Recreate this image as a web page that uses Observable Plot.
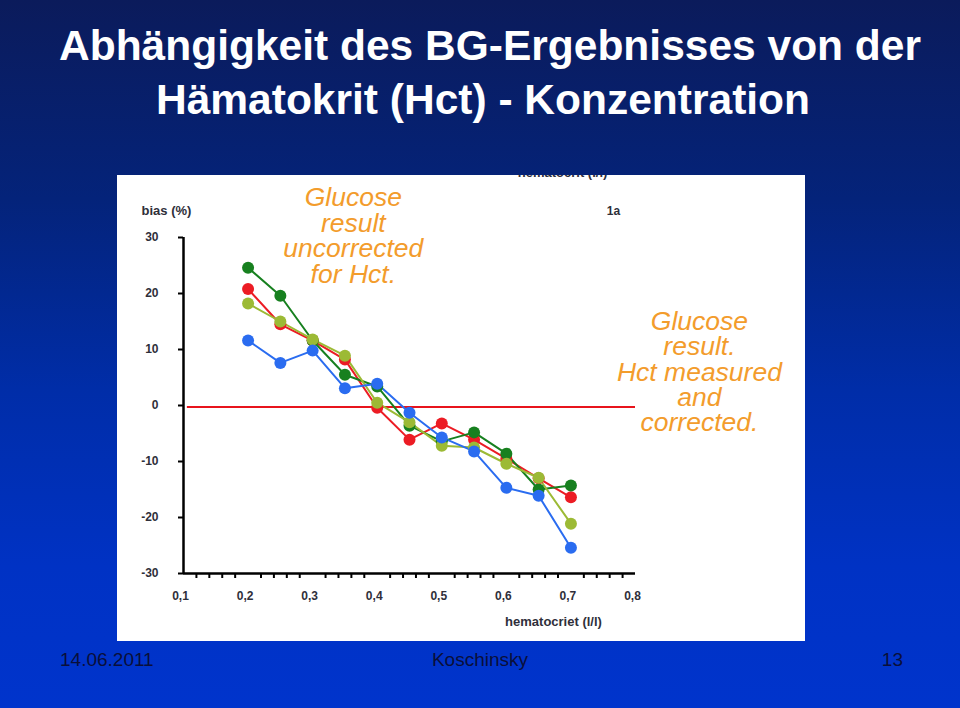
<!DOCTYPE html>
<html>
<head>
<meta charset="utf-8">
<script src="https://cdn.jsdelivr.net/npm/d3@7"></script>
<script src="https://cdn.jsdelivr.net/npm/@observablehq/plot@0.6"></script>
<style>
  html, body { margin: 0; padding: 0; }
  #slide {
    position: relative; width: 960px; height: 708px; overflow: hidden;
    background: linear-gradient(to bottom, #0b1b5b 0%, #04237a 28%, #002da8 55%, #0032c4 80%, #0034cc 100%);
    font-family: "Liberation Sans", Arial, sans-serif;
  }
  .title { position: absolute; left: 0; width: 960px; text-align: center; color: white;
    font-weight: bold; font-size: 42.5px; line-height: 43px; white-space: nowrap; }
  #chart { position: absolute; left: 117px; top: 175px; width: 688px; height: 466px; background: white; }
  .foot { position: absolute; top: 649px; font-size: 19px; color: #0a0f3a; }
</style>
</head>
<body>
<div id="slide">
  <div class="title" style="top:24px; left:10px;">Abhängigkeit des BG-Ergebnisses von der</div>
  <div class="title" style="top:78px; left:3px;">Hämatokrit (Hct) - Konzentration</div>
  <div id="chart"></div>
  <div class="foot" style="left:60px;">14.06.2011</div>
  <div class="foot" style="left:0; width:960px; text-align:center;">Koschinsky</div>
  <div class="foot" style="right:57px;">13</div>
</div>
<script>
// hematocrit (l/l) values
const hct = [0.2, 0.25, 0.3, 0.35, 0.4, 0.45, 0.5, 0.55, 0.6, 0.65, 0.7];
// bias (%) per series
const redSeries        = [20.8, 14.5, 11.6, 8.2, -0.4, -6.1, -3.2, -6.1, -9.5, -13.0, -16.4];
const darkGreenSeries  = [24.6, 19.6, 11.6, 5.5, 3.4, -3.6, -6.4, -4.8, -8.6, -15.0, -14.3];
const yellowGreenSeries= [18.2, 15.0, 11.8, 8.9, 0.5, -3.0, -7.2, -7.5, -10.4, -12.9, -21.1];
const blueSeries       = [11.6, 7.6, 9.8, 3.1, 3.9, -1.3, -5.7, -8.2, -14.7, -16.1, -25.4];
const seriesNames = ["red", "darkgreen", "yellowgreen", "blue"];
const seriesColors = ["#ec1c24", "#17801f", "#9cba35", "#2a6cf0"];
const yTicks = [-30, -20, -10, 0, 10, 20, 30];
const xLabelTicks = [0.1, 0.2, 0.3, 0.4, 0.5, 0.6, 0.7, 0.8];
const xMinorTicks = [0.12,0.14,0.16,0.18,0.22,0.24,0.26,0.28,0.32,0.34,0.36,0.38,0.42,0.44,0.46,0.48,
                     0.52,0.54,0.56,0.58,0.62,0.64,0.66,0.68,0.72,0.74,0.76,0.78];
const note1 = "Glucose\nresult\nuncorrected\nfor Hct.";
const note2 = "Glucose\nresult.\nHct measured\nand\ncorrected.";

const allSeries = [redSeries, darkGreenSeries, yellowGreenSeries, blueSeries];
const rows = allSeries.flatMap((vals, i) => hct.map((h, j) => ({series: seriesNames[i], hct: h, bias: vals[j]})));

const txt = "#2f2f3a";
const chart = Plot.plot({
  width: 688, height: 466,
  marginLeft: 66, marginRight: 170, marginTop: 62, marginBottom: 68,
  x: {domain: [0.1, 0.8]},
  y: {domain: [-30, 30]},
  color: {domain: seriesNames, range: seriesColors},
  style: {background: "white", fontFamily: "Liberation Sans, Arial, sans-serif", overflow: "hidden", color: txt},
  marks: [
    Plot.axisY(yTicks, {tickSize: 5, tickPadding: 20, strokeWidth: 2, stroke: "black", fill: txt,
      fontSize: 12, fontWeight: "bold", tickFormat: d => String(d), label: null}),
    Plot.axisX(xMinorTicks, {tickSize: 5, strokeWidth: 2, stroke: "black", tickFormat: () => "", label: null}),
    Plot.axisX(xLabelTicks, {tickSize: 0, tickPadding: 18, dx: -3, fill: txt, fontSize: 12, fontWeight: "bold",
      tickFormat: d => d.toFixed(1).replace(".", ","), label: null}),
    Plot.ruleX([0.1], {y1: -30, y2: 30, stroke: "black", strokeWidth: 2.5}),
    Plot.ruleY([-30], {x1: 0.1, x2: 0.8, stroke: "black", strokeWidth: 2.5}),
    Plot.ruleY([0], {x1: 0.106, x2: 0.8, stroke: "#e8141c", strokeWidth: 2, dy: 1.5}),
    Plot.line(rows, {x: "hct", y: "bias", z: "series", stroke: "series", strokeWidth: 2}),
    Plot.dot(rows, {x: "hct", y: "bias", fill: "series", r: 6}),
    Plot.text(["bias (%)"], {x: 0.035, y: 34.7, text: d => d, textAnchor: "start", fontSize: 13, fontWeight: "bold", fill: txt}),
    Plot.text(["1a"], {x: 0.766, y: 34.7, text: d => d, fontSize: 12, fontWeight: "bold", fill: txt}),
    Plot.text(["hematocrit (l/l)"], {x: 0.687, y: 41.6, text: d => d, fontSize: 13, fontWeight: "bold", fill: txt}),
    Plot.text(["hematocriet (l/l)"], {x: 0.673, y: -38.6, text: d => d, fontSize: 13, fontWeight: "bold", fill: txt}),
    Plot.text([note1], {x: 0.363, y: 30.2, text: d => d, fontSize: 26.5, fontStyle: "italic", lineHeight: 0.96, fill: "#f39c2c"}),
    Plot.text([note2], {x: 0.899, y: 5.9, text: d => d, fontSize: 26.5, fontStyle: "italic", lineHeight: 0.96, fill: "#f39c2c"})
  ]
});
document.getElementById("chart").appendChild(chart);
</script>
</body>
</html>
